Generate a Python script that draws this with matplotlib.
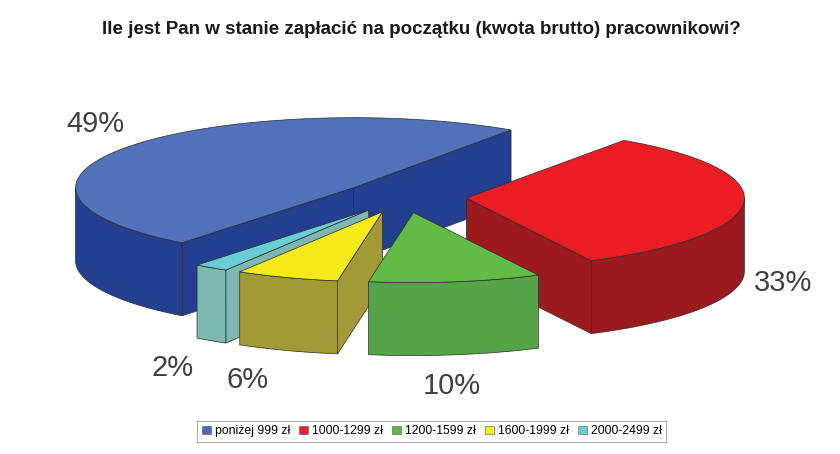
import numpy as np
import matplotlib.pyplot as plt
from matplotlib.patches import Polygon, Patch

title = "Ile jest Pan w stanie zapłacić na początku (kwota brutto) pracownikowi?"
labels = ["poniżej 999 zł", "1000-1299 zł", "1200-1599 zł", "1600-1999 zł", "2000-2499 zł"]
values = [49, 33, 10, 6, 2]

top_colors = ["#5171BA", "#EC1C24", "#64BA46", "#F4EA1A", "#6ACCD4"]
side_colors = ["#22408F", "#9B1A1D", "#55A548", "#A29A36", "#7DB8B0"]
legend_colors = ["#4A6CB8", "#E8202A", "#5DB848", "#F2EC1C", "#6DCCD6"]

# pixel positions of the percentage labels
label_xy = [(95, 124), (783, 283), (452, 386), (248, 380), (173, 368)]

# 3d pie layout (pixels)
cx, cy = 404, 197
rx, ry = 278, 70
depth = 73
explode = 0.225
start = 231.9  # first slice starts here and runs clockwise

fig = plt.figure(figsize=(8.4, 4.54), dpi=100)
ax = fig.add_axes([0, 0, 1, 1])
ax.set_xlim(0, 840)
ax.set_ylim(454, 0)
ax.axis("off")


def arc(ox, oy, a1, a2, dz=0, n=80):
    t = np.radians(np.linspace(a1, a2, n))
    return np.column_stack([ox + rx * np.cos(t), oy - ry * np.sin(t) + dz])


def point(ox, oy, a, dz=0):
    t = np.radians(a)
    return np.array([ox + rx * np.cos(t), oy - ry * np.sin(t) + dz])


total = sum(values)
slices = []
end = start
for i, v in enumerate(values):
    span = v * 360.0 / total
    a2 = end
    a1 = end - span
    end = a1
    a1 = a1 % 360
    a2 = a1 + span
    mid = np.radians((a1 + a2) / 2)
    ox = cx + explode * rx * np.cos(mid)
    oy = cy - explode * ry * np.sin(mid)
    slices.append((i, a1, a2, ox, oy))

# back slices first
slices.sort(key=lambda s: s[4])

for i, a1, a2, ox, oy in slices:
    apex = np.array([ox, oy])
    apex_b = np.array([ox, oy + depth])
    side = side_colors[i]
    faces = []

    # radial faces
    if np.cos(np.radians(a1)) > 0:
        faces.append([apex, point(ox, oy, a1), point(ox, oy, a1, depth), apex_b])
    if np.cos(np.radians(a2)) < 0:
        faces.append([apex, point(ox, oy, a2), point(ox, oy, a2, depth), apex_b])

    # curved outer face, front half only
    for lo, hi in [(180, 360), (540, 720)]:
        f1, f2 = max(a1, lo), min(a2, hi)
        if f2 > f1:
            top = arc(ox, oy, f1, f2)
            bot = arc(ox, oy, f2, f1, depth)
            faces.append(np.vstack([top, bot]))

    for f in faces:
        ax.add_patch(Polygon(np.array(f), closed=True, facecolor=side,
                             edgecolor="#2b2b2b", linewidth=0.5))

    top_face = np.vstack([apex, arc(ox, oy, a1, a2)])
    ax.add_patch(Polygon(top_face, closed=True, facecolor=top_colors[i],
                         edgecolor="#2b2b2b", linewidth=0.5))

for (x, y), v in zip(label_xy, values):
    ax.text(x, y, f"{v}%", ha="center", va="center", fontsize=21,
            family="Liberation Sans", color="#404040")

ax.text(421, 30, title, ha="center", va="center", fontsize=13.5,
        fontweight="bold", family="Liberation Sans", color="#1a1a1a")

handles = [Patch(facecolor=c, edgecolor="#555555", linewidth=0.4) for c in legend_colors]
leg = ax.legend(handles, labels, loc="lower center", bbox_to_anchor=(0.514, 0.014),
                ncol=5, frameon=True, fancybox=False,
                handlelength=0.75, handleheight=0.75, handletextpad=0.3,
                columnspacing=0.75, borderpad=0.35,
                prop={"family": "Liberation Sans", "size": 8.8})
leg.get_frame().set_edgecolor("#9a9a9a")
leg.get_frame().set_linewidth(0.8)

fig.savefig("out.png", dpi=100)
